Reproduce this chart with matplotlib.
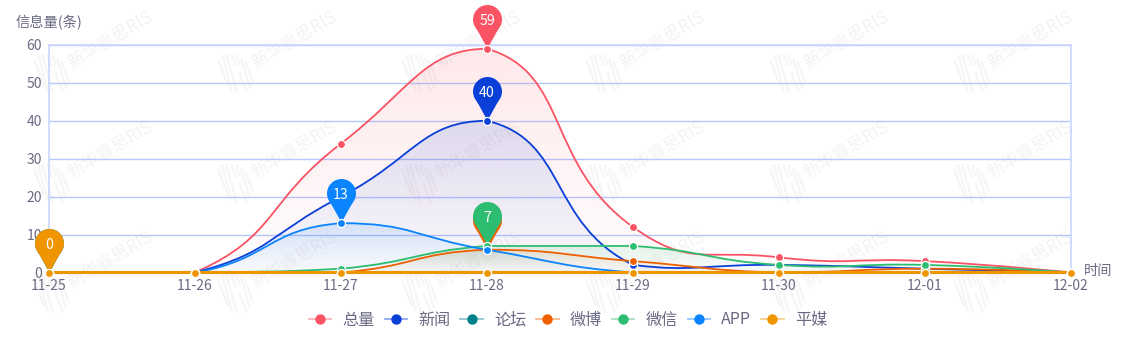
import numpy as np
import matplotlib
matplotlib.use("Agg")
import matplotlib.pyplot as plt
from matplotlib.path import Path
from matplotlib.patches import PathPatch
from matplotlib.lines import Line2D
from matplotlib.collections import LineCollection
from matplotlib.transforms import Affine2D

plt.rcParams['font.family'] = ['Noto Sans CJK SC', 'DejaVu Sans']

dates = ['11-25', '11-26', '11-27', '11-28', '11-29', '11-30', '12-01', '12-02']
total = [0, 0, 34, 59, 12, 4, 3, 0]
news = [0, 0, 20, 40, 2, 2, 1, 0]
forum = [0, 0, 0, 0, 0, 0, 0, 0]
weibo = [0, 0, 0, 6, 3, 0, 1, 0]
wechat = [0, 0, 1, 7, 7, 2, 2, 0]
app = [0, 0, 13, 6, 0, 0, 0, 0]
press = [0, 0, 0, 0, 0, 0, 0, 0]

names = ['总量', '新闻', '论坛', '微博', '微信', 'APP', '平媒']
series = [total, news, forum, weibo, wechat, app, press]
colors = ['#f95364', '#0a3fd8', '#00818a', '#ee6000', '#2dbd70', '#0a84ff', '#ee9500']
covered_pin_labels = ['论坛', '微博']  # these pins sit under another pin
y_ticks = [0, 10, 20, 30, 40, 50, 60]

W, H = 1134, 360
TXT = '#6a6a84'
fig = plt.figure(figsize=(W / 100, H / 100), dpi=100, facecolor='white')
L, R, T, B = 49, 1071, 45, 272.5
ax = fig.add_axes([L / W, (H - B) / H, (R - L) / W, (B - T) / H])
ax.patch.set_alpha(0)
ax.set_xlim(0, len(dates) - 1)
ax.set_ylim(0, 60)

# watermark tiled behind the chart
px = Affine2D().scale(1 / W, -1 / H).translate(0, 1) + fig.transFigure
stripes = [(-17, -15, -7, 12), (-13, -19, -3, 17), (-9, -20, 2, 19), (-4, -20, 1, -7),
           (1, -19, 5, -8), (4, -2, 12, 19), (6, -16, 15, 14), (10, -14, 18, 8)]
segs = []
for ry in range(-36, 420, 110):
    for rx in range(-133, 1200, 184):
        segs += [[(rx + a, ry + b), (rx + c, ry + d)] for a, b, c, d in stripes]
        tx, ty = rx + 59, ry - 34
        if 0 < tx < W and 0 < ty < H:
            fig.text(tx, ty, '新华睿思RIS', transform=px, rotation=31, fontsize=12.5,
                     color='#000000', alpha=0.05, ha='center', va='center', zorder=-2,
                     rotation_mode='anchor')
fig.add_artist(LineCollection(segs, colors='#000000', alpha=0.035, linewidths=1.8,
                              transform=px, zorder=-2))


def smooth_path(values, smooth=0.5):
    """ECharts-style smooth line: control points only limited by the series' own extent."""
    sx, sy = (R - L) / (len(values) - 1), (B - T) / 60
    p = np.column_stack([np.arange(len(values)) * sx, np.asarray(values, float) * sy])
    n = len(p)
    lo, hi = p.min(axis=0), p.max(axis=0)
    cp_out, cp_in = p.copy(), p.copy()
    for i in range(1, n - 1):
        d0, d1 = np.hypot(*(p[i] - p[i - 1])), np.hypot(*(p[i + 1] - p[i]))
        v = p[i + 1] - p[i - 1]
        cp_out[i] = np.clip(p[i] + v * smooth * d1 / (d0 + d1), lo, hi)
        cp_in[i] = np.clip(p[i] - v * smooth * d0 / (d0 + d1), lo, hi)
    verts, codes = [p[0]], [Path.MOVETO]
    for i in range(n - 1):
        verts += [cp_out[i], cp_in[i + 1], p[i + 1]]
        codes += [Path.CURVE4] * 3
    return np.array(verts) / [sx, sy], codes


# map pin; tip at the data point
R_PIN, C_PIN, TOP = 14.5, 30.0, 44.5
ang = np.degrees(np.arccos(R_PIN / C_PIN))
arc = Path.arc(-90 + ang, 270 - ang)
pv = arc.vertices * R_PIN + [0, C_PIN]
pin_v = np.vstack([[[0, 0]], [[pv[0][0] * 0.35, pv[0][1] * 0.45]], [pv[0]], pv[1:],
                   [[pv[-1][0] * 0.35, pv[-1][1] * 0.45]], [[0, 0]], [[0, 0]]]) / TOP
pin_c = [Path.MOVETO, Path.CURVE3, Path.CURVE3] + list(arc.codes[1:]) + \
        [Path.CURVE3, Path.CURVE3, Path.CLOSEPOLY]
pin = Path(pin_v, pin_c)
PIN_MS = 2 * TOP * 0.72

x = np.arange(len(dates))
for k, (name, vals, col) in enumerate(zip(names, series, colors)):
    z = 3 + k * 0.1          # line and area
    zm = 5 + k * 0.1         # pin, pin label, then the series' dots
    verts, codes = smooth_path(vals)
    if max(vals) > 0:
        area = Path(np.vstack([verts, [[7, 0], [0, 0], [0, 0]]]),
                    codes + [Path.LINETO, Path.LINETO, Path.CLOSEPOLY])
        rgba = np.zeros((256, 1, 4))
        rgba[..., :3] = matplotlib.colors.to_rgb(col)
        rgba[..., 3] = np.linspace(0.13, 0.01, 256)[:, None]
        im = ax.imshow(rgba, extent=(0, 7, 0, max(vals)), origin='upper', aspect='auto',
                       zorder=z - 1)
        im.set_clip_path(area, transform=ax.transData)
    ax.add_patch(PathPatch(Path(verts, codes), fc='none', ec=col, lw=1.3 if max(vals) else 2.2,
                           zorder=z, clip_on=False))
    imax = int(np.argmax(vals))
    ax.plot([imax], [vals[imax]], ls='none', marker=pin, ms=PIN_MS, mfc=col, mew=0,
            zorder=zm, clip_on=False)
    if name not in covered_pin_labels:
        ax.annotate(str(vals[imax]), (imax, vals[imax]), xytext=(0, 20), textcoords='offset points',
                    ha='center', va='center', color='white', fontsize=10.2, zorder=zm + 0.02,
                    annotation_clip=False)
    ax.plot(x, vals, ls='none', marker='o', ms=5.8, mfc=col, mec='white', mew=0.9,
            zorder=zm + 0.05, clip_on=False)

# grid and frame
ax.set_yticks(y_ticks)
ax.set_xticks(x, dates)
ax.grid(axis='y', color='#b6c7fe', lw=1.0, zorder=1)
ax.set_axisbelow(True)
ax.tick_params(length=0, labelsize=10, labelcolor=TXT)
ax.tick_params(axis='y', pad=5)
ax.tick_params(axis='x', pad=4.5)
for s in ['top', 'left', 'right', 'bottom']:
    ax.spines[s].set_color('#c9d5fd')
    ax.spines[s].set_linewidth(1.2)
    ax.spines[s].set_zorder(1)

fig.text(16 / W, 1 - 23 / H, '信息量(条)', color=TXT, fontsize=10.3, ha='left', va='center')
fig.text(1084 / W, 1 - 271 / H, '时间', color=TXT, fontsize=10.3, ha='left', va='center')

handles = [Line2D([], [], color=matplotlib.colors.to_rgba(c, 0.45), lw=1.3, marker='o', ms=7.5,
                  mfc=c, mec=c, mew=0) for c in colors]
ax.legend(handles, names, ncol=7, frameon=False, loc='center',
          bbox_to_anchor=(((321 + 825) / 2 - 5 - L) / (R - L), -(320 - B) / (B - T)),
          fontsize=11.6, labelcolor=TXT, handlelength=1.4, handletextpad=0.7,
          columnspacing=0.6, borderpad=0, borderaxespad=0)

fig.savefig('out.png', dpi=100)
